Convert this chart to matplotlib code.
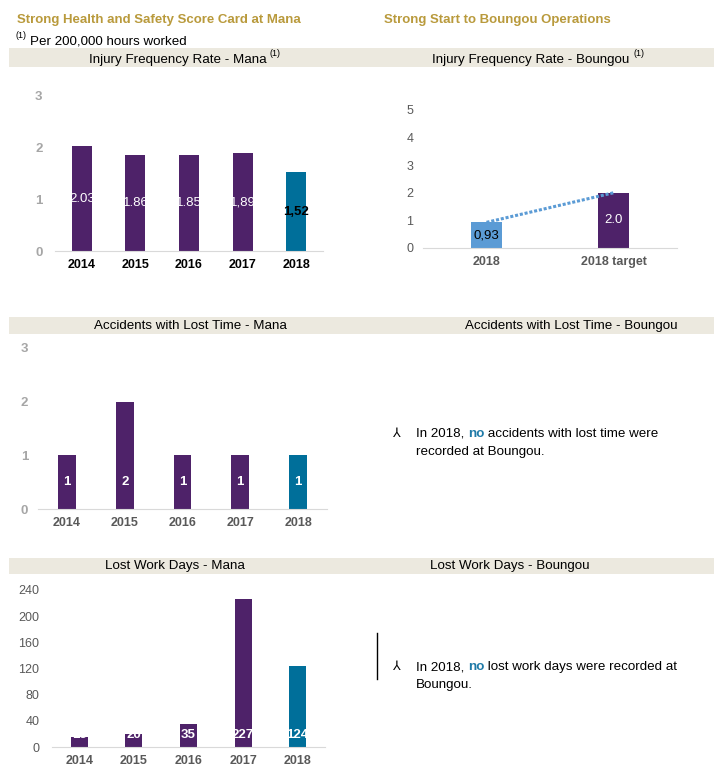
import matplotlib
matplotlib.use("Agg")
import matplotlib.pyplot as plt
from matplotlib.patches import Rectangle

plt.rcParams['font.family'] = ['Liberation Sans', 'DejaVu Sans']

# data
years = ['2014', '2015', '2016', '2017', '2018']
ifr_mana = [2.03, 1.86, 1.85, 1.89, 1.52]
ifr_mana_lbl = ['2.03', '1.86', '1.85', '1,89', '1,52']
ifr_boungou_cats = ['2018', '2018 target']
ifr_boungou = [0.93, 2.0]
ifr_boungou_lbl = ['0,93', '2.0']
accidents_mana = [1, 2, 1, 1, 1]
lost_days_mana = [15, 20, 35, 227, 124]

PURPLE = '#4E2269'
TEAL = '#006F9A'
LBLUE = '#5B9BD5'
BAND = '#ECE9DF'
GOLD = '#B99A3C'
GREY = '#595959'
LGREY = '#A6A6A6'

W, H = 718, 771
fig = plt.figure(figsize=(W / 100, H / 100), dpi=100)

bg = fig.add_axes([0, 0, 1, 1], zorder=0)
bg.set_xlim(0, W)
bg.set_ylim(H, 0)
bg.axis('off')


def px_axes(l, t, r, b):
    ax = fig.add_axes([l / W, 1 - b / H, (r - l) / W, (b - t) / H], zorder=2)
    ax.patch.set_alpha(0)
    for s in ['left', 'right', 'top']:
        ax.spines[s].set_visible(False)
    ax.spines['bottom'].set_color('#D9D9D9')
    ax.tick_params(length=0)
    return ax


def rich_line(x, y, parts, size=9.6):
    # parts: list of (text, color, weight) drawn one after another
    r = fig.canvas.get_renderer()
    for txt, col, wt in parts:
        t = bg.text(x, y, txt, fontsize=size, color=col, fontweight=wt,
                    ha='left', va='center')
        bb = t.get_window_extent(renderer=r)
        x += bb.width


# header texts and bands
bg.text(17, 20, 'Strong Health and Safety Score Card at Mana', fontsize=9.5,
        fontweight='bold', color=GOLD, va='center')
bg.text(384, 20, 'Strong Start to Boungou Operations', fontsize=9.5,
        fontweight='bold', color=GOLD, va='center')
bg.text(15, 35, '(1)', fontsize=6.5, va='center')
bg.text(30, 41, 'Per 200,000 hours worked', fontsize=9.6, va='center')

for top, bot in [(48, 67), (317, 334), (558, 574)]:
    bg.add_patch(Rectangle((9, top), 705, bot - top, color=BAND, lw=0))

bg.text(178, 60, 'Injury Frequency Rate - Mana', fontsize=9.6, ha='center', va='center')
bg.text(270, 54, '(1)', fontsize=6.5, va='center')
bg.text(531, 60, 'Injury Frequency Rate - Boungou', fontsize=9.6, ha='center', va='center')
bg.text(633, 54, '(1)', fontsize=6.5, va='center')
bg.text(190, 326, 'Accidents with Lost Time - Mana', fontsize=9.6, ha='center', va='center')
bg.text(571, 326, 'Accidents with Lost Time - Boungou', fontsize=9.6, ha='center', va='center')
bg.text(175, 566, 'Lost Work Days - Mana', fontsize=9.6, ha='center', va='center')
bg.text(510, 566, 'Lost Work Days - Boungou', fontsize=9.6, ha='center', va='center')

# bullets on the right
bg.text(397, 434, '⅄', fontsize=9, ha='center', va='center')
rich_line(416, 434, [('In 2018, ', 'black', 'normal'), ('no', '#1F7AA8', 'bold'),
                     (' accidents with lost time were', 'black', 'normal')])
bg.text(416, 452, 'recorded at Boungou.', fontsize=9.6, va='center')

bg.text(397, 667, '⅄', fontsize=9, ha='center', va='center')
rich_line(416, 667, [('In 2018, ', 'black', 'normal'), ('no', '#1F7AA8', 'bold'),
                     (' lost work days were recorded at', 'black', 'normal')])
bg.text(416, 685, 'Boungou.', fontsize=9.6, va='center')
bg.plot([377, 377], [633, 679], color='black', lw=1)

mana_colors = [PURPLE] * 4 + [TEAL]
narrow = ['Liberation Sans Narrow', 'Liberation Sans', 'DejaVu Sans']

# Injury Frequency Rate - Mana
ax1 = px_axes(55, 96, 323, 251)
x = range(len(years))
ax1.bar(x, ifr_mana, width=0.37, color=mana_colors)
for i, (v, lb) in enumerate(zip(ifr_mana, ifr_mana_lbl)):
    ax1.text(i, v / 2, lb, ha='center', va='center', fontsize=9.5, family=narrow,
             color='black' if i == 4 else 'white', fontweight='bold' if i == 4 else 'normal')
ax1.set_xlim(-0.5, 4.5)
ax1.set_ylim(0, 3)
ax1.set_yticks([0, 1, 2, 3])
ax1.set_xticks(list(x))
ax1.set_xticklabels(years, fontweight='bold', fontsize=9)
ax1.tick_params(axis='x', pad=6)
ax1.tick_params(axis='y', pad=9, labelcolor=LGREY, labelsize=9.5)
for t in ax1.get_yticklabels():
    t.set_fontweight('bold')

# Injury Frequency Rate - Boungou
ax2 = px_axes(423, 110, 677, 248)
x2 = range(len(ifr_boungou_cats))
ax2.bar(x2, ifr_boungou, width=0.25, color=[LBLUE, PURPLE])
ax2.plot(list(x2), ifr_boungou, ls=(0, (1, 0.6)), color=LBLUE, lw=2.2)
for i, (v, lb) in enumerate(zip(ifr_boungou, ifr_boungou_lbl)):
    ax2.text(i, v / 2, lb, ha='center', va='center', fontsize=9.5,
             color='black' if i == 0 else 'white')
ax2.set_xlim(-0.5, 1.5)
ax2.set_ylim(0, 5)
ax2.set_yticks(range(6))
ax2.set_xticks(list(x2))
ax2.set_xticklabels(ifr_boungou_cats, fontweight='bold', fontsize=9, color=GREY)
ax2.tick_params(axis='x', pad=6)
ax2.tick_params(axis='y', pad=7, labelcolor=GREY, labelsize=9)

# Accidents with Lost Time - Mana
ax3 = px_axes(38, 348, 327, 509)
ax3.bar(x, accidents_mana, width=0.31, color=mana_colors)
for i, v in enumerate(accidents_mana):
    ax3.text(i, 0.5, str(v), ha='center', va='center', fontsize=9.5,
             color='white', fontweight='bold')
ax3.set_xlim(-0.5, 4.5)
ax3.set_ylim(0, 3)
ax3.set_yticks([0, 1, 2, 3])
ax3.set_xticks(list(x))
ax3.set_xticklabels(years, fontweight='bold', fontsize=9, color=GREY)
ax3.tick_params(axis='x', pad=6)
ax3.tick_params(axis='y', pad=7, labelcolor=LGREY, labelsize=9.5)
for t in ax3.get_yticklabels():
    t.set_fontweight('bold')

# Lost Work Days - Mana
ax4 = px_axes(52, 590, 325, 747)
ax4.bar(x, lost_days_mana, width=0.31, color=mana_colors)
for i, v in enumerate(lost_days_mana):
    ax4.text(i, 18, str(v), ha='center', va='center', fontsize=9.5,
             color='white', fontweight='bold')
ax4.set_xlim(-0.5, 4.5)
ax4.set_ylim(0, 240)
ax4.set_yticks(range(0, 241, 40))
ax4.set_xticks(list(x))
ax4.set_xticklabels(years, fontweight='bold', fontsize=9, color=GREY)
ax4.tick_params(axis='x', pad=6)
ax4.tick_params(axis='y', pad=9, labelcolor=GREY, labelsize=9)

fig.savefig('out.png', dpi=100)
